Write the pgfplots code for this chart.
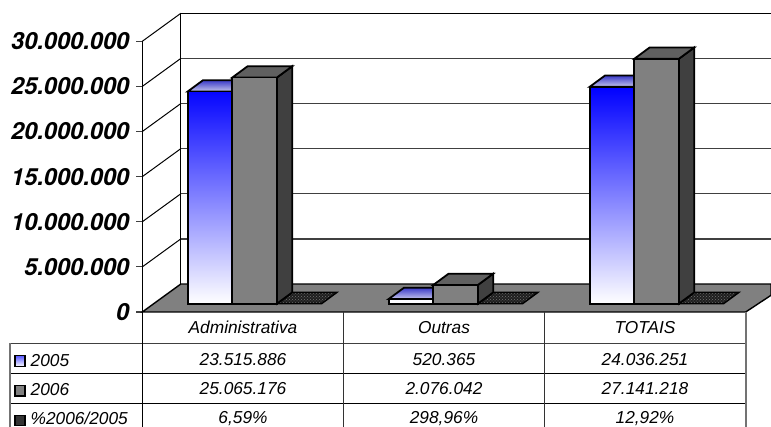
\documentclass[border=0pt]{standalone}
\usepackage{pgfplots}
\pgfplotsset{compat=1.18}
\usepackage{pgfplotstable}
\usepackage{fontspec}
\setmainfont{Liberation Sans}
\newfontfamily\heros{TeX Gyre Heros}
\usetikzlibrary{patterns}
\definecolor{gfront}{HTML}{808080}
\definecolor{gtop}{HTML}{606060}
\definecolor{gside}{HTML}{404040}
\definecolor{bluetopA}{HTML}{3A3AC8}
\definecolor{bluetopB}{HTML}{C4C4EC}
\pgfplotstableread{
x v
210.0 23515886
411.0 520365
612.0 24036251
}\serieA
\pgfplotstableread{
x v
254.6 25065176
455.6 2076042
656.6 27141218
}\serieB
% faces of a bar: #1 left x of the front, #2 value
\newcommand{\topface}[3]{\addplot[draw=black,line width=1.8pt,#3] coordinates {(#1,#2) ({#1+15.3},{#2+1250000}) ({#1+59.9},{#2+1250000}) ({#1+44.6},#2)} -- cycle;}
\newcommand{\sideface}[3]{\addplot[draw=black,line width=1.8pt,#3] coordinates {({#1+44.6},0) ({#1+59.9},1250000) ({#1+59.9},{#2+1250000}) ({#1+44.6},#2)} -- cycle;}
\newcommand{\flatbar}[1]{\addplot[draw=none,fill=black!88] coordinates {(#1,0) ({#1+15.3},1250000) ({#1+59.9},1250000) ({#1+44.6},0)} -- cycle;
\addplot[draw=black,line width=1.4pt,pattern=crosshatch dots,pattern color=black!55] coordinates {(#1,0) ({#1+15.3},1250000) ({#1+59.9},1250000) ({#1+44.6},0)} -- cycle;}
\newcommand{\tabfont}{\fontsize{17.3}{20}\selectfont\itshape}
\newcommand{\T}[3]{\node[anchor=base,font=\tabfont,inner sep=0pt] at (#1pt,{(427-#2)*1pt}) {#3};}
\begin{document}
\begin{tikzpicture}[x=1pt,y=1pt]
\useasboundingbox (0,0) rectangle (771,427);
\clip (0,0) rectangle (771,427);
\begin{axis}[
  name=walls, at={(142.3pt,115pt)}, anchor=south west,
  scale only axis, width=603.4pt, height=270.7pt,
  xmin=142.3, xmax=745.7, ymin=0, ymax=30000000,
  clip=false,
  axis x line=none, axis y line*=left,
  axis line style={black,line width=1.2pt},
  xtick=\empty,
  ytick={0,5000000,10000000,15000000,20000000,25000000,30000000},
  yticklabels={{0},{5.000.000},{10.000.000},{15.000.000},{20.000.000},{25.000.000},{30.000.000}},
  scaled y ticks=false,
  tick style={black!75,line width=1.2pt},
  tick align=outside, major tick length=6pt,
  yticklabel style={font=\fontsize{23.6}{25}\heros\bfseries\itshape,xshift=-3.5pt},
]
% floor
\addplot[draw=black,line width=1.4pt,fill=gfront] coordinates {(142.3,0) (180.8,3100000) (771,3100000) (771,1850000) (745.7,0)} -- cycle;
% back wall grid
\addplot[draw=black!75,line width=1.2pt] coordinates {(180.8,8100000) (771,8100000)};
\addplot[draw=black!75,line width=1.2pt] coordinates {(180.8,13100000) (771,13100000)};
\addplot[draw=black!75,line width=1.2pt] coordinates {(180.8,18100000) (771,18100000)};
\addplot[draw=black!75,line width=1.2pt] coordinates {(180.8,23100000) (771,23100000)};
\addplot[draw=black!75,line width=1.2pt] coordinates {(180.8,28100000) (771,28100000)};
\addplot[draw=black,line width=1.2pt] coordinates {(180.8,33100000) (771,33100000)};
\addplot[draw=black,line width=1.2pt] coordinates {(180.8,3100000) (180.8,33100000)};
% side wall diagonals
\addplot[draw=black,line width=1pt] coordinates {(142.3,5000000) (180.8,8100000)};
\addplot[draw=black,line width=1pt] coordinates {(142.3,10000000) (180.8,13100000)};
\addplot[draw=black,line width=1pt] coordinates {(142.3,15000000) (180.8,18100000)};
\addplot[draw=black,line width=1pt] coordinates {(142.3,20000000) (180.8,23100000)};
\addplot[draw=black,line width=1pt] coordinates {(142.3,25000000) (180.8,28100000)};
\addplot[draw=black,line width=1pt] coordinates {(142.3,30000000) (180.8,33100000)};
\end{axis}
\begin{axis}[
  at={(142.3pt,123.3pt)}, anchor=south west,
  scale only axis, width=603.4pt, height=270.7pt,
  xmin=142.3, xmax=745.7, ymin=0, ymax=30000000,
  clip=false, axis lines=none, xtick=\empty, ytick=\empty,
]
% third series: flat on the floor
\flatbar{277.0}
\flatbar{478.0}
\flatbar{679.0}
% 2005
\topface{187.7}{23515886}{top color=bluetopA,bottom color=bluetopB}
\topface{388.7}{520365}{top color=bluetopA,bottom color=bluetopB}
\topface{589.7}{24036251}{top color=bluetopA,bottom color=bluetopB}
\addplot[ybar,bar width=44.6,bar shift=0pt,draw=black,line width=1.8pt,top color=blue,bottom color=white] table[x=x,y=v] {\serieA};
% 2006
\sideface{232.3}{25065176}{fill=gside}
\sideface{433.3}{2076042}{fill=gside}
\sideface{634.3}{27141218}{fill=gside}
\topface{232.3}{25065176}{fill=gtop}
\topface{433.3}{2076042}{fill=gtop}
\topface{634.3}{27141218}{fill=gtop}
\addplot[ybar,bar width=44.6,bar shift=0pt,draw=black,line width=1.8pt,fill=gfront] table[x=x,y=v] {\serieB};
\end{axis}
% data table
\draw[black!75,line width=1.1pt] (10,83.7) -- (745.7,83.7);
\draw[black,line width=1.1pt] (10,53.7) -- (745.7,53.7);
\draw[black,line width=1.1pt] (10,23.7) -- (745.7,23.7);
\draw[black,line width=1.2pt] (142.3,115) -- (142.3,0);
\draw[black!80,line width=1.1pt] (343.3,115) -- (343.3,0);
\draw[black!80,line width=1.1pt] (544.7,115) -- (544.7,0);
\draw[black!55,line width=1.6pt] (745.7,115) -- (745.7,0);
\draw[black!55,line width=1.6pt] (10,83.7) -- (10,0);
\T{243}{333.3}{Administrativa}
\T{444}{333.3}{Outras}
\T{645}{333.3}{TOTAIS}
\T{243}{365.5}{23.515.886}
\T{444}{365.5}{520.365}
\T{645}{365.5}{24.036.251}
\T{243}{395}{25.065.176}
\T{444}{395}{2.076.042}
\T{645}{395}{27.141.218}
\T{243}{423.6}{6,59\%}
\T{444}{423.6}{298,96\%}
\T{645}{423.6}{12,92\%}
\node[anchor=base west,font=\tabfont,inner sep=0pt] at (30.5,60.5) {2005};
\node[anchor=base west,font=\tabfont,inner sep=0pt] at (30.5,31) {2006};
\node[anchor=base west,font=\tabfont,inner sep=0pt] at (30.5,2.5) {\%2006/2005};
\draw[black,line width=1.3pt,top color=blue!65,bottom color=white] (15,71.3) rectangle (25,60.5);
\draw[black,line width=1.3pt,fill=gfront] (15,41.5) rectangle (25,31);
\draw[black,line width=1.3pt,fill=black!80] (15,11.5) rectangle (25,1.5);
\end{tikzpicture}
\end{document}
